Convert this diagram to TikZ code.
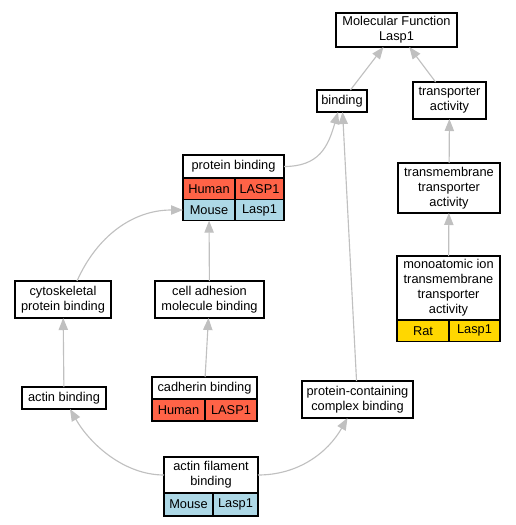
\documentclass[tikz,border=0pt]{standalone}
\usepackage{fontspec}
\setmainfont{Liberation Sans}
\usetikzlibrary{positioning,arrows.meta,calc}
\definecolor{human}{RGB}{255,99,71}
\definecolor{mouse}{RGB}{173,216,230}
\definecolor{rat}{RGB}{255,215,0}
\definecolor{isaline}{RGB}{192,192,192}
\tikzset{
  term/.style={draw, fill=white, line width=0.9pt, align=center, inner sep=1pt, outer sep=0pt,
               font=\fontsize{9.6}{11.2}\selectfont},
  cell/.style={term, minimum height=16pt},
  humancell/.style={cell, fill=human},
  mousecell/.style={cell, fill=mouse},
  ratcell/.style={cell, fill=rat},
  isa/.style={-{Triangle[length=9pt,width=7pt]}, draw=isaline, line width=0.85pt},
}
\begin{document}
\begin{tikzpicture}[x=0.75pt, y=-0.75pt]
  \useasboundingbox (0,0) rectangle (515,525);

  \node[term, minimum width=90.75pt, minimum height=25.5pt] (mf) at (396.5,30) {Molecular Function\\Lasp1};
  \node[term, minimum width=37.5pt, minimum height=16.5pt] (bind) at (342,101) {binding};
  \node[term, minimum width=54.75pt, minimum height=27.75pt] (ta) at (449.5,100.5) {transporter\\activity};
  \node[term, minimum width=76.5pt, minimum height=37.5pt] (tmt) at (449,188) {transmembrane\\transporter\\activity};

  \node[term, minimum width=77.25pt, minimum height=48pt] (monoT) at (448.5,288)
    {monoatomic ion\\transmembrane\\transporter\\activity};
  \node[ratcell, minimum width=39pt, anchor=north west] (monoRat) at (monoT.south west) {Rat};
  \node[ratcell, minimum width=38.25pt, right=0pt of monoRat] (monoLasp) {Lasp1};

  \node[term, minimum width=75.75pt, minimum height=17.25pt] (pbT) at (233.5,166.5) {protein binding};
  \node[humancell, minimum width=39pt, anchor=north west] (pbHuman) at (pbT.south west) {Human};
  \node[humancell, minimum width=36.75pt, right=0pt of pbHuman] (pbLASP) {LASP1};
  \node[mousecell, minimum width=39pt, anchor=north west] (pbMouse) at (pbHuman.south west) {Mouse};
  \node[mousecell, minimum width=36.75pt, right=0pt of pbMouse] (pbLasp) {Lasp1};

  \node[term, minimum width=72pt, minimum height=27.75pt] (csk) at (63,299.5) {cytoskeletal\\protein binding};
  \node[term, minimum width=81.75pt, minimum height=27.75pt] (camol) at (209.5,299.5) {cell adhesion\\molecule binding};
  \node[term, minimum width=63pt, minimum height=16.5pt] (ab) at (64,398) {actin binding};

  \node[term, minimum width=78.75pt, minimum height=16.5pt] (cadT) at (204.5,388) {cadherin binding};
  \node[humancell, minimum width=39.75pt, minimum height=16.5pt, anchor=north west] (cadHuman) at (cadT.south west) {Human};
  \node[humancell, minimum width=39pt, minimum height=16.5pt, right=0pt of cadHuman] (cadLASP) {LASP1};

  \node[term, minimum width=83.25pt, minimum height=27.75pt] (pccb) at (357.5,399.5) {protein-containing\\complex binding};

  \node[term, minimum width=70.5pt, minimum height=27pt] (afbT) at (211,475) {actin filament\\binding};
  \node[mousecell, minimum width=36.75pt, minimum height=17.25pt, anchor=north west] (afbMouse) at (afbT.south west) {Mouse};
  \node[mousecell, minimum width=33.75pt, minimum height=17.25pt, right=0pt of afbMouse] (afbLasp) {Lasp1};

  \foreach \a/\b in {bind/mf, ta/mf, tmt/ta, monoT/tmt, pccb/bind, camol/pbMouse, cadT/camol, ab/csk}
    \draw[isa] (\a) -- (\b);

  \draw[isa] (pbT.east) .. controls +(35,0) and +(-10,35) .. ($(bind.south)+(-4,0)$);
  \draw[isa] ($(csk.north)+(14,0)$) .. controls +(20,-45) and +(-50,0) .. (pbMouse.west);
  \draw[isa] (afbT.west) .. controls +(-40,0) and +(20,35) .. ($(ab.south)+(6,0)$);
  \draw[isa] (afbT.east) .. controls +(40,0) and +(-20,35) .. ($(pccb.south)+(-10,0)$);
\end{tikzpicture}
\end{document}
